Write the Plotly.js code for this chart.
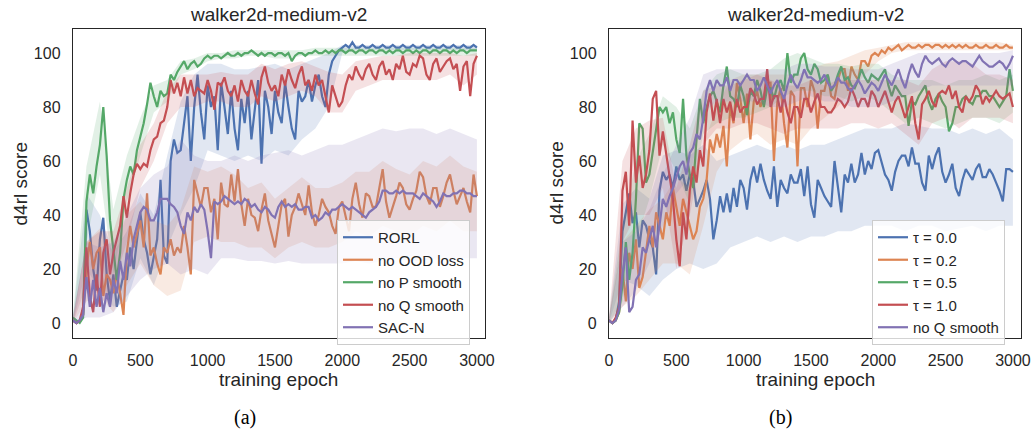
<!DOCTYPE html>
<html><head><meta charset="utf-8">
<script src="https://cdn.plot.ly/plotly-3.0.1.min.js"></script>
<style>html,body{margin:0;padding:0;background:#fff}#chart{width:1036px;height:430px}</style>
</head><body><div id="chart"></div>
<script>
// x grids (epochs)
const epochs = Array.from({length: 121}, (_, i) => i * 25);
const bandEpochs = Array.from({length: 31}, (_, i) => i * 100);

const leftNames = ['RORL', 'no OOD loss', 'no P smooth', 'no Q smooth', 'SAC-N'];
const rightNames = ['τ = 0.0', 'τ = 0.2', 'τ = 0.5', 'τ = 1.0', 'no Q smooth'];
const chartTitle = 'walker2d-medium-v2';
const xTitle = 'training epoch';
const yTitle = 'd4rl score';
const xTicks = [0, 500, 1000, 1500, 2000, 2500, 3000];
const yTicks = [0, 20, 40, 60, 80, 100];

// ---- (a) mean curves ----
const rorl = [
 1, 0, 1, 3, 42, 34, 20, 12,
 31, 39, 18, 8, 18, 6, 12, 18,
 16, 28, 20, 31, 41, 31, 26, 18,
 24, 31, 53, 25, 22, 60, 68, 63,
 64, 74, 84, 60, 80, 92, 78, 68,
 88, 80, 84, 64, 89, 80, 70, 86,
 72, 64, 83, 74, 86, 68, 80, 90,
 59, 86, 80, 70, 86, 78, 74, 89,
 80, 72, 68, 86, 82, 84, 90, 82,
 88, 92, 84, 80, 92, 97, 99, 101,
 102, 103, 102, 104, 102, 102, 103, 102,
 102, 103, 102, 102, 103, 102, 102, 103,
 102, 102, 103, 102, 102, 103, 102, 102,
 103, 102, 102, 103, 102, 102, 103, 102,
 102, 103, 102, 102, 103, 102, 102, 103,
 102];
const noOOD = [
 1, 0, 1, 3, 20, 30, 20, 26,
 28, 10, 18, 16, 11, 18, 11, 3,
 26, 36, 28, 33, 38, 28, 48, 25,
 28, 22, 18, 28, 26, 31, 25, 28,
 26, 36, 28, 18, 53, 48, 43, 50,
 50, 41, 46, 31, 52, 44, 43, 55,
 45, 57, 44, 36, 46, 40, 39, 34,
 42, 48, 38, 33, 28, 36, 44, 46,
 32, 40, 43, 48, 44, 40, 51, 41,
 36, 40, 46, 43, 41, 36, 33, 43,
 45, 40, 34, 46, 52, 44, 39, 48,
 47, 43, 43, 50, 57, 45, 39, 43,
 47, 52, 50, 44, 42, 46, 49, 56,
 54, 47, 44, 50, 50, 43, 47, 52,
 55, 49, 44, 47, 50, 45, 41, 55,
 47];
const noP = [
 2, 1, 0, 2, 45, 55, 48, 58,
 66, 80, 62, 38, 26, 16, 26, 46,
 53, 58, 55, 64, 69, 74, 81, 89,
 84, 80, 86, 84, 85, 92, 90, 93,
 95, 97, 94, 96, 97, 95, 96, 98,
 99, 98, 99, 99, 98, 99, 100, 99,
 99, 100, 99, 100, 100, 101, 100, 99,
 100, 99, 100, 100, 99, 100, 100, 99,
 100, 97, 99, 100, 100, 99, 100, 100,
 101, 100, 100, 101, 100, 101, 100, 101,
 101, 100, 101, 101, 100, 101, 101, 100,
 101, 101, 100, 101, 101, 100, 101, 100,
 101, 101, 100, 101, 101, 100, 101, 100,
 101, 101, 100, 101, 101, 100, 101, 101,
 100, 101, 100, 101, 101, 100, 101, 101,
 101];
const noQ = [
 1, 0, 1, 6, 28, 10, 4, 18,
 6, 26, 31, 18, 26, 31, 36, 47,
 39, 48, 55, 59, 57, 59, 58, 64,
 68, 69, 74, 75, 80, 90, 85, 89,
 84, 91, 85, 90, 84, 87, 86, 85,
 90, 86, 79, 89, 88, 91, 86, 84,
 88, 82, 90, 86, 84, 90, 85, 81,
 91, 95, 89, 86, 88, 84, 92, 88,
 94, 90, 87, 92, 95, 88, 90, 86,
 92, 88, 90, 84, 78, 88, 84, 80,
 82, 88, 92, 90, 95, 92, 90, 94,
 96, 92, 90, 95, 97, 92, 94, 90,
 96, 94, 99, 93, 92, 96, 95, 99,
 98, 92, 90, 96, 98, 93, 95, 97,
 98, 94, 96, 86, 95, 97, 84, 96,
 99];
const sacN = [
 1, 0, 1, 3, 17, 6, 16, 6,
 13, 4, 11, 6, 16, 11, 23, 16,
 26, 21, 31, 36, 41, 43, 42, 38,
 38, 41, 46, 46, 46, 44, 43, 41,
 36, 33, 41, 38, 43, 41, 44, 42,
 34, 24, 45, 44, 45, 47, 46, 45,
 44, 45, 44, 46, 45, 43, 44, 42,
 41, 43, 42, 40, 39, 43, 45, 43,
 44, 43, 44, 42, 42, 43, 43, 39,
 40, 38, 39, 41, 40, 42, 42, 43,
 44, 43, 42, 43, 42, 41, 40, 39,
 41, 42, 43, 45, 49, 49, 48, 48,
 49, 48, 49, 48, 48, 48, 47, 46,
 48, 47, 46, 45, 43, 45, 48, 47,
 47, 48, 48, 49, 49, 48, 48, 47,
 47];

// ---- (a) shaded ranges (every 100 epochs) ----
const rorlHi = [2,48,40,26,34,48,40,62,82,92,96,96,94,94,95,96,94,96,98,100,103,103,103,103,103,103,103,103,103,103,103];
const rorlLo = [0,20,12,6,8,24,14,28,40,50,64,62,60,62,60,64,62,68,72,80,100,101,101,101,101,101,101,101,101,101,101];
const noOODHi = [2,30,35,26,40,45,38,36,42,58,56,58,55,50,52,46,50,54,50,50,52,56,56,60,57,55,60,58,62,58,56];
const noOODLo = [0,8,10,4,14,22,14,10,12,30,32,30,30,28,28,24,28,30,28,28,30,34,32,36,34,32,36,34,38,34,34];
const noPHi = [3,58,82,42,62,76,88,90,97,98,100,100,101,101,101,101,101,101,102,102,102,102,102,102,102,102,102,102,102,102,102];
const noPLo = [0,30,55,18,45,62,78,82,92,94,97,98,98,99,99,98,98,99,99,99,99,99,99,99,99,99,99,99,99,99,99];
const noQHi = [2,30,34,34,50,66,74,86,92,92,92,93,92,92,96,94,96,97,95,93,92,97,98,99,99,100,100,100,100,99,100];
const noQLo = [0,14,6,14,30,50,60,74,80,80,82,82,80,80,84,82,84,86,84,78,78,86,88,90,90,90,90,90,92,88,92];
const sacNHi = [3,30,28,30,40,50,55,58,68,62,60,60,62,60,62,63,64,62,64,66,66,68,70,72,71,72,72,70,72,70,68];
const sacNLo = [0,2,2,4,10,16,20,22,18,20,18,24,24,23,23,22,23,22,22,22,22,23,22,23,24,23,23,24,23,24,24];

// ---- (b) mean curves ----
const tau00 = [
 1, 0, 1, 8, 34, 41, 48, 37,
 41, 28, 38, 36, 31, 28, 18, 49,
 56, 53, 55, 50, 58, 53, 55, 49,
 55, 53, 43, 46, 49, 53, 46, 31,
 38, 47, 41, 48, 41, 50, 43, 53,
 50, 42, 53, 58, 52, 59, 53, 49,
 46, 58, 43, 53, 50, 48, 55, 52,
 52, 57, 47, 58, 44, 39, 53, 50,
 47, 45, 43, 60, 50, 41, 55, 52,
 59, 52, 55, 63, 55, 60, 57, 63,
 64, 59, 55, 53, 49, 56, 60, 62,
 62, 58, 65, 59, 59, 52, 49, 62,
 57, 62, 65, 56, 52, 55, 59, 50,
 47, 53, 57, 55, 53, 57, 59, 54,
 54, 57, 55, 52, 49, 45, 57, 57,
 56];
const tau02 = [
 1, 0, 1, 4, 20, 8, 26, 20,
 31, 13, 17, 26, 36, 28, 41, 36,
 31, 41, 36, 50, 43, 36, 46, 41,
 36, 31, 34, 43, 46, 53, 68, 63,
 70, 65, 73, 58, 80, 74, 89, 83,
 74, 85, 68, 82, 86, 80, 84, 89,
 89, 60, 82, 87, 74, 65, 86, 84,
 58, 87, 87, 80, 90, 86, 72, 86,
 86, 92, 84, 83, 90, 94, 94, 86,
 95, 92, 90, 97, 97, 95, 99, 100,
 99, 101, 100, 102, 101, 102, 103, 101,
 102, 103, 102, 102, 103, 102, 103, 103,
 102, 103, 103, 102, 103, 102, 103, 102,
 103, 102, 103, 102, 102, 103, 102, 102,
 103, 102, 102, 103, 102, 102, 103, 102,
 102];
const tau05 = [
 1, 0, 1, 4, 14, 30, 16, 26,
 46, 74, 72, 52, 55, 64, 73, 80,
 78, 80, 74, 78, 68, 63, 83, 62,
 55, 50, 68, 83, 74, 80, 84, 86,
 82, 78, 88, 95, 84, 83, 80, 88,
 84, 77, 86, 84, 90, 86, 80, 87,
 87, 83, 88, 90, 86, 100, 89, 92,
 92, 98, 100, 94, 92, 96, 94, 89,
 90, 92, 86, 88, 92, 95, 90, 91,
 88, 87, 90, 94, 91, 89, 92, 91,
 90, 92, 94, 88, 84, 88, 86, 84,
 84, 73, 82, 81, 84, 86, 88, 82,
 79, 83, 85, 82, 80, 71, 74, 80,
 80, 83, 84, 82, 81, 84, 84, 86,
 86, 84, 84, 82, 80, 82, 84, 94,
 86];
const tau10 = [
 1, 0, 2, 6, 49, 56, 36, 75,
 52, 62, 50, 55, 64, 83, 86, 62,
 71, 62, 55, 46, 31, 21, 41, 31,
 49, 58, 52, 64, 58, 78, 85, 75,
 83, 74, 83, 78, 82, 75, 83, 78,
 80, 80, 87, 85, 81, 83, 83, 94,
 80, 84, 84, 78, 84, 78, 74, 80,
 80, 76, 83, 83, 78, 82, 85, 80,
 80, 78, 78, 80, 83, 82, 80, 82,
 87, 84, 80, 83, 83, 80, 86, 84,
 80, 83, 86, 82, 78, 82, 84, 80,
 76, 80, 84, 74, 68, 81, 83, 86,
 82, 80, 85, 86, 85, 88, 83, 86,
 80, 78, 84, 82, 84, 88, 86, 81,
 84, 82, 84, 86, 84, 83, 84, 85,
 80];
const noQb = [
 1, 0, 1, 5, 18, 28, 4, 6,
 16, 18, 28, 26, 31, 36, 28, 36,
 46, 43, 47, 50, 54, 58, 60, 55,
 63, 65, 70, 68, 76, 86, 90, 86,
 90, 88, 88, 91, 86, 90, 90, 88,
 90, 92, 90, 90, 86, 88, 91, 88,
 85, 88, 90, 86, 83, 88, 92, 89,
 87, 90, 94, 91, 91, 90, 89, 90,
 92, 89, 87, 88, 91, 89, 89, 87,
 86, 88, 90, 88, 85, 87, 89, 88,
 86, 89, 92, 90, 88, 91, 94, 90,
 87, 92, 96, 93, 91, 96, 99, 97,
 96, 97, 98, 96, 95, 97, 98, 97,
 96, 97, 97, 96, 95, 97, 99, 97,
 96, 95, 95, 96, 97, 96, 94, 96,
 99];

// ---- (b) shaded ranges (every 100 epochs) ----
const tau00Hi = [2,44,50,46,62,64,62,66,60,62,64,66,64,66,64,66,66,68,70,72,72,72,74,73,72,72,70,72,70,72,68];
const tau00Lo = [0,16,14,10,16,20,22,20,22,28,30,32,30,32,30,32,32,34,34,36,36,36,34,36,36,34,35,36,34,36,36];
const tau02Hi = [2,30,36,42,46,54,50,66,80,90,92,92,92,92,92,94,96,97,99,101,102,103,104,104,104,104,104,104,104,104,103];
const tau02Lo = [0,6,10,16,22,22,18,36,56,64,68,70,66,68,66,72,76,80,86,92,97,100,101,101,101,101,101,101,101,101,101];
const tau05Hi = [2,36,60,70,84,80,72,86,92,94,92,92,94,98,100,98,96,96,95,96,96,92,90,90,90,88,90,90,92,90,92];
const tau05Lo = [0,8,30,46,66,56,44,70,74,76,76,78,80,84,86,86,84,84,82,84,82,78,74,76,74,72,74,76,76,74,78];
const tau10Hi = [2,60,72,75,76,50,66,86,88,88,90,92,90,88,88,90,88,90,90,90,90,90,90,88,94,97,97,96,92,92,90];
const tau10Lo = [0,30,40,40,50,20,40,66,72,72,74,74,72,70,72,72,72,72,74,74,72,74,70,66,74,76,72,76,76,76,74];
const noQbHi = [2,30,34,42,55,66,76,92,94,94,94,94,94,94,96,96,95,95,94,94,94,96,98,100,100,100,100,100,100,100,101];
const noQbLo = [0,6,12,22,36,48,54,78,82,82,82,82,80,80,82,84,82,82,80,80,80,82,84,86,88,88,88,88,88,88,88];

const palette = ['#4C72B0', '#DD8452', '#55A868', '#C44E52', '#8172B3'];
const fills = ['rgba(76,114,176,0.17)', 'rgba(221,132,82,0.17)', 'rgba(85,168,104,0.17)', 'rgba(196,78,82,0.17)', 'rgba(129,114,179,0.17)'];

const leftSeries = [[rorl, rorlHi, rorlLo], [noOOD, noOODHi, noOODLo], [noP, noPHi, noPLo], [noQ, noQHi, noQLo], [sacN, sacNHi, sacNLo]];
const rightSeries = [[tau00, tau00Hi, tau00Lo], [tau02, tau02Hi, tau02Lo], [tau05, tau05Hi, tau05Lo], [tau10, tau10Hi, tau10Lo], [noQb, noQbHi, noQbLo]];

const traces = [];
function addPanel(series, names, xa, ya, leg) {
  series.forEach((s, i) => {
    traces.push({x: bandEpochs, y: s[2], xaxis: xa, yaxis: ya, mode: 'lines', line: {width: 0, color: palette[i]}, showlegend: false, hoverinfo: 'skip'});
    traces.push({x: bandEpochs, y: s[1], xaxis: xa, yaxis: ya, mode: 'lines', line: {width: 0, color: palette[i]}, fill: 'tonexty', fillcolor: fills[i], showlegend: false, hoverinfo: 'skip'});
    traces.push({x: epochs, y: s[0], xaxis: xa, yaxis: ya, mode: 'lines', name: names[i], line: {color: palette[i], width: 2.2}, legend: leg});
  });
}
addPanel(leftSeries, leftNames, 'x', 'y', 'legend');
addPanel(rightSeries, rightNames, 'x2', 'y2', 'legend2');

const txt = '#262626';
const font = 'Liberation Sans, Arial, sans-serif';
function xaxis(dom) {
  return {domain: dom, range: [0, 3060], tickvals: xTicks, ticktext: xTicks.map(String), showgrid: false, zeroline: false,
    showline: true, mirror: true, linecolor: txt, linewidth: 1.25, ticks: '', ticklabelstandoff: 8,
    tickfont: {family: font, size: 16, color: txt}};
}
function yaxis(anchor) {
  return {domain: [0.21395, 0.93256], anchor: anchor, range: [-5.56, 108.9], tickvals: yTicks, ticktext: yTicks.map(String), showgrid: false, zeroline: false,
    showline: true, mirror: true, linecolor: txt, linewidth: 1.25, ticks: '', ticklabelstandoff: 8,
    tickfont: {family: font, size: 16, color: txt}};
}
const legendBase = {yanchor: 'top', xanchor: 'left', y: 0.4884, bgcolor: 'rgba(255,255,255,0.8)', bordercolor: '#cccccc', borderwidth: 1,
  font: {family: font, size: 15, color: txt}, itemwidth: 30, traceorder: 'normal'};

const ann = (text, x, y, size, extra) => Object.assign({text: text, x: x, y: y, xref: 'paper', yref: 'paper', showarrow: false,
  xanchor: 'center', yanchor: 'middle', font: {family: font, size: size, color: txt}}, extra || {});

const layout = {
  width: 1036, height: 430, margin: {l: 0, r: 0, t: 0, b: 0}, paper_bgcolor: '#fff', plot_bgcolor: '#fff',
  showlegend: true,
  xaxis: Object.assign(xaxis([0.07046, 0.46815]), {anchor: 'y'}),
  yaxis: yaxis('x'),
  xaxis2: Object.assign(xaxis([0.58784, 0.98552]), {anchor: 'y2'}),
  yaxis2: yaxis('x2'),
  legend: Object.assign({}, legendBase, {x: 0.3253}),
  legend2: Object.assign({}, legendBase, {x: 0.8417}),
  annotations: [
    ann(chartTitle, 0.2693, 0.9674, 19),
    ann(chartTitle, 0.7867, 0.9674, 19),
    ann(xTitle, 0.2693, 0.1163, 19),
    ann(xTitle, 0.7867, 0.1163, 19),
    ann(yTitle, 0.0193, 0.5733, 19, {textangle: -90}),
    ann(yTitle, 0.5367, 0.5733, 19, {textangle: -90}),
    ann('(a)', 0.2365, 0.0300, 20, {font: {family: 'Liberation Serif, Times New Roman, serif', size: 20, color: '#000'}}),
    ann('(b)', 0.7529, 0.0300, 20, {font: {family: 'Liberation Serif, Times New Roman, serif', size: 20, color: '#000'}})
  ]
};
Plotly.newPlot('chart', traces, layout, {displayModeBar: false, staticPlot: true});
</script></body></html>
